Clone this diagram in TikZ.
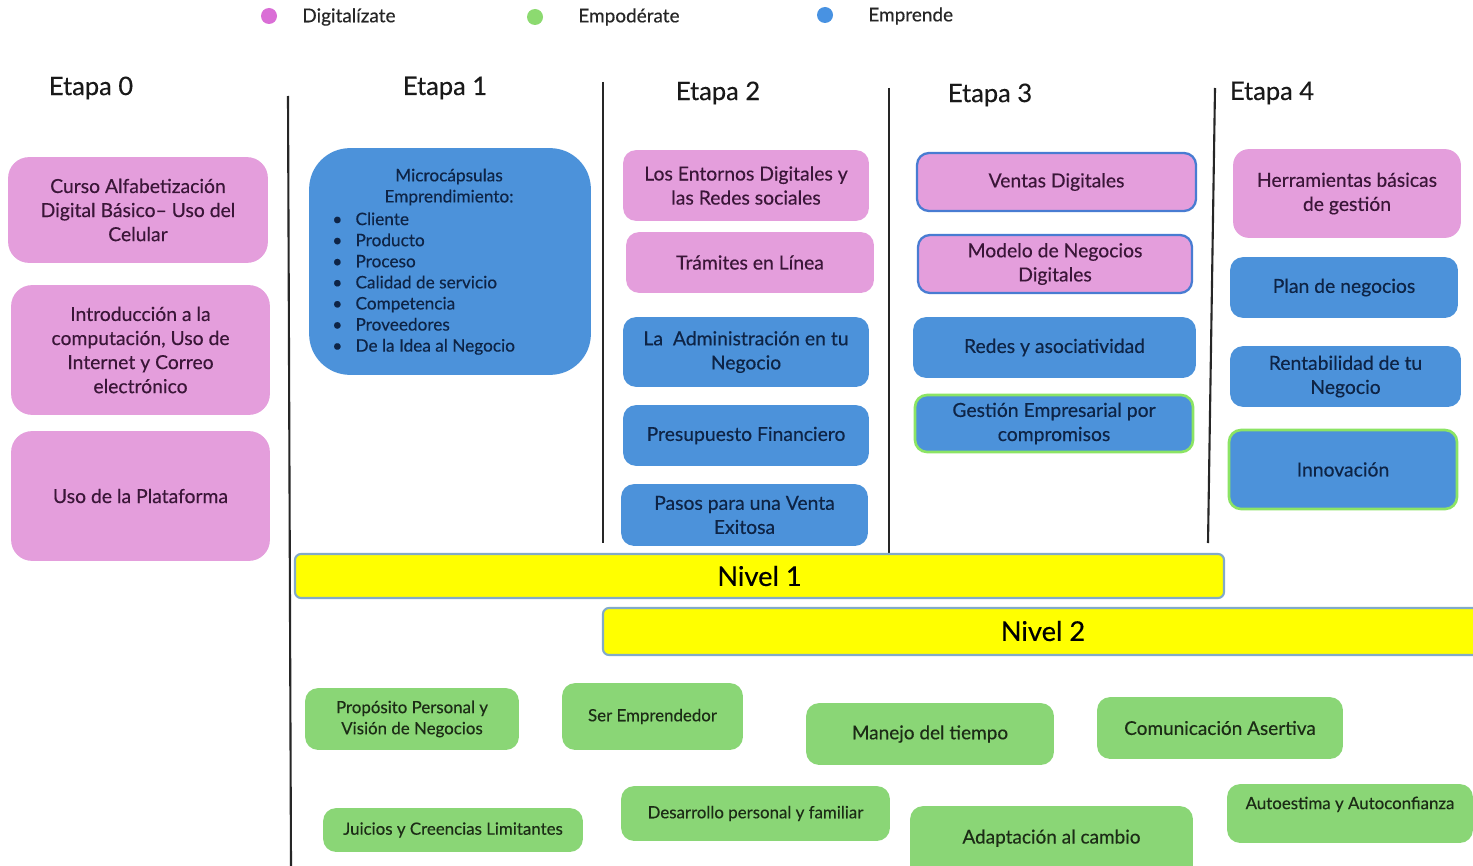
\documentclass[tikz,border=0pt]{standalone}
\usepackage{fontspec}
\setmainfont{Lato}[FakeBold=0.35]
\definecolor{pinkf}{RGB}{228,158,220}
\definecolor{bluef}{RGB}{76,146,218}
\definecolor{greenf}{RGB}{138,214,118}
\definecolor{pinkt}{RGB}{58,22,56}
\definecolor{bluet}{RGB}{14,36,70}
\definecolor{greent}{RGB}{28,44,22}
\definecolor{dotpink}{RGB}{218,110,214}
\definecolor{dotgreen}{RGB}{140,218,112}
\definecolor{dotblue}{RGB}{72,146,226}
\definecolor{yel}{RGB}{255,255,0}
\definecolor{yelb}{RGB}{130,170,200}
\definecolor{bordblue}{RGB}{72,124,210}
\definecolor{bordgreen}{RGB}{140,228,100}
\newcommand{\bx}[7]{\node[#6, minimum width={(#4-#2)*0.02cm}, minimum height={(#5-#3)*0.02cm}] (#1) at ({(#2+#4)/2},{(#3+#5)/2}) {#7};}
\newcommand{\shiftedtext}[2]{\smash{\raisebox{#1}{#2}}}
\tikzset{
  base/.style={rounded corners=0.24cm, inner sep=0pt, outer sep=0pt, align=center, line width=1pt},
  pinkbox/.style={base, fill=pinkf, draw=pinkf, text=pinkt, font=\fontsize{11}{13.7}\selectfont},
  bluebox/.style={base, fill=bluef, draw=bluef, text=bluet, font=\fontsize{11}{13.7}\selectfont},
  greenbox/.style={base, fill=greenf, draw=greenf, text=greent, font=\fontsize{10.8}{13.6}\selectfont},
  smallgreen/.style={greenbox, font=\fontsize{9.6}{12}\selectfont},
  nivel/.style={base, rounded corners=0.12cm, fill=yel, draw=yelb, line width=1.2pt, text=black, font=\fontsize{15.5}{17}\selectfont},
  etapa/.style={font=\fontsize{14.5}{16}\selectfont, text=black!90, inner sep=0pt},
  legend/.style={font=\fontsize{10.8}{12}\selectfont, text=black!85, anchor=west, inner sep=0pt},
  sep/.style={draw=black!85, line width=1.2pt},
}
\begin{document}
\begin{tikzpicture}[x=0.02cm, y=-0.02cm]
\clip (0,0) rectangle (1473,865);
\fill[white] (0,0) rectangle (1473,865);
% legend
\fill[dotpink] (269,16) circle (8);
\node[legend] (l1) at (302,17) {Digitalízate};
\fill[dotgreen] (535,17) circle (8);
\node[legend] (l2) at (578,17) {Empodérate};
\fill[dotblue] (825,15) circle (8);
\node[legend] (l3) at (868,16) {Emprende};
% etapas
\node[etapa] (e0) at (91,88) {Etapa 0};
\node[etapa] (e1) at (445,88) {Etapa 1};
\node[etapa] (e2) at (718,93) {Etapa 2};
\node[etapa] (e3) at (990,95) {Etapa 3};
\node[etapa] (e4) at (1272,93) {Etapa 4};
% separators
\coordinate (s1a) at (288,96); \coordinate (s1b) at (291,866);
\coordinate (s2a) at (603,82); \coordinate (s2b) at (603,543);
\coordinate (s3a) at (889,88); \coordinate (s3b) at (889,560);
\coordinate (s4a) at (1215,88); \coordinate (s4b) at (1208,543);
\draw[sep] (s1a) -- (s1b);
\draw[sep] (s2a) -- (s2b);
\draw[sep] (s3a) -- (s3b);
\draw[sep] (s4a) -- (s4b);
% Etapa 0
\bx{c0a}{9}{158}{267}{262}{pinkbox, rounded corners=0.4cm}{Curso Alfabetización\\Digital Básico– Uso del\\Celular}
\bx{c0b}{12}{286}{269}{414}{pinkbox, rounded corners=0.4cm}{Introducción a la\\computación, Uso de\\Internet y Correo\\electrónico}
\bx{c0c}{12}{432}{269}{560}{pinkbox, rounded corners=0.4cm}{Uso de la Plataforma}
% Etapa 1
\bx{c1}{310}{149}{590}{374}{bluebox, rounded corners=0.8cm}{}
\node[text=bluet, font=\fontsize{9.8}{12}\selectfont, align=center, inner sep=0pt] (c1t) at (449,187) {Microcápsulas\\Emprendimiento:};
\node[text=bluet, font=\fontsize{9.8}{12}\selectfont, anchor=north west, inner sep=0pt] (c1l) at (332,210) {%
\begin{tabular}{@{}l@{\hspace{7.5pt}}l@{}}
\textbullet & Cliente\\
\textbullet & Producto\\
\textbullet & Proceso\\
\textbullet & Calidad de servicio\\
\textbullet & Competencia\\
\textbullet & Proveedores\\
\textbullet & De la Idea al Negocio
\end{tabular}};
% Etapa 2
\bx{c2a}{624}{151}{868}{220}{pinkbox}{Los Entornos Digitales y\\las Redes sociales}
\bx{c2b}{627}{233}{873}{292}{pinkbox}{Trámites en Línea}
\bx{c2c}{624}{318}{868}{386}{bluebox}{La\ \ Administración en tu\\Negocio}
\bx{c2d}{624}{406}{868}{465}{bluebox}{Presupuesto Financiero}
\bx{c2e}{622}{485}{867}{545}{bluebox}{Pasos para una Venta\\Exitosa}
% Etapa 3
\bx{c3a}{917}{153}{1196}{211}{pinkbox, draw=bordblue, line width=1.3pt}{Ventas Digitales}
\bx{c3b}{918}{235}{1192}{293}{pinkbox, draw=bordblue, line width=1.3pt}{Modelo de Negocios\\Digitales}
\bx{c3c}{914}{318}{1195}{377}{bluebox}{Redes y asociatividad}
\bx{c3d}{915}{395}{1193}{452}{bluebox, draw=bordgreen, line width=1.5pt}{Gestión Empresarial por\\compromisos}
% Etapa 4
\bx{c4a}{1234}{150}{1460}{237}{pinkbox, rounded corners=0.3cm}{Herramientas básicas\\de gestión}
\bx{c4b}{1231}{258}{1457}{317}{bluebox}{Plan de negocios}
\bx{c4c}{1231}{347}{1460}{406}{bluebox}{Rentabilidad de tu\\Negocio}
\bx{c4d}{1229}{430}{1457}{509}{bluebox, draw=bordgreen, line width=1.5pt}{Innovación}
% Niveles
\bx{n1}{295}{554}{1224}{598}{nivel}{Nivel 1}
\bx{n2}{603}{608}{1500}{655}{nivel}{}
\node[font=\fontsize{15.5}{17}\selectfont, inner sep=0pt] (n2t) at (1043,631) {Nivel 2};
% Empodérate
\bx{g1}{306}{689}{518}{749}{smallgreen}{Propósito Personal y\\Visión de Negocios}
\bx{g2}{563}{684}{742}{749}{smallgreen}{Ser Emprendedor}
\bx{g3}{807}{704}{1053}{764}{greenbox}{Manejo del tiempo}
\bx{g4}{1098}{698}{1342}{758}{greenbox}{Comunicación Asertiva}
\bx{g5}{324}{809}{582}{851}{smallgreen}{Juicios y Creencias Limitantes}
\bx{g6}{622}{787}{889}{840}{smallgreen}{Desarrollo personal y familiar}
\bx{g7}{911}{807}{1192}{880}{greenbox}{\shiftedtext{0pt}{Adaptación al cambio}}
\bx{g8}{1228}{785}{1472}{842}{smallgreen}{\shiftedtext{2.5pt}{Autoestima y Autoconfianza}}
\end{tikzpicture}
\end{document}
